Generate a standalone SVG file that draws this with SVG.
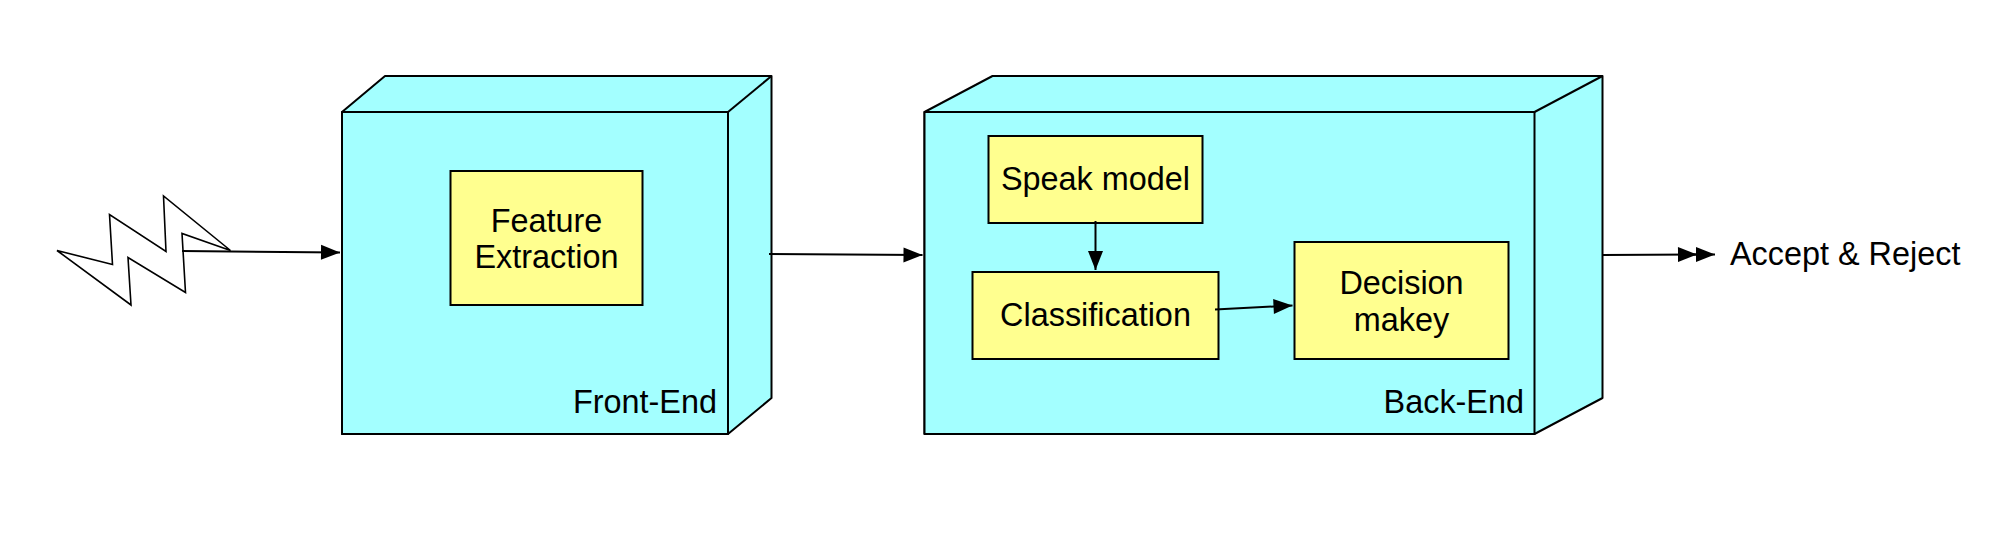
<svg xmlns="http://www.w3.org/2000/svg" width="2004" height="552" viewBox="0 0 2004 552">
<style>
.cube{fill:#a3ffff;stroke:#000;stroke-width:2;stroke-linejoin:round}
.box{fill:#ffff8f;stroke:#000;stroke-width:2}
.bolt{fill:#fff;stroke:#000;stroke-width:1.6;stroke-linejoin:miter}
.link{fill:none;stroke:#000;stroke-width:2}
text{font-family:"Liberation Sans",Arial,Helvetica,sans-serif;font-size:32.4px;fill:#000}
.m{text-anchor:middle}
.e{text-anchor:end}
</style>
<defs>
<marker id="arrow" markerUnits="userSpaceOnUse" markerWidth="20" markerHeight="16" refX="19" refY="7.500" orient="auto" overflow="visible">
<path d="M0 0L19 7.500L0 15Z" fill="#000"/>
</marker>
</defs>
<rect width="2004" height="552" fill="#fff"/>
<g id="front-end">
<path class="cube" d="M342 112L385 76H771.500V398L728 434H342Z"/>
<path class="cube" d="M342 112H728V434H342Z"/>
<path class="cube" style="fill:none" d="M728 112L771.500 76"/>
<text class="e" x="717" y="413">Front-End</text>
</g>
<g id="feature-extraction">
<rect class="box" x="450.500" y="171" width="192" height="134"/>
<text class="m" x="546.500" y="232">Feature</text>
<text class="m" x="546.500" y="268">Extraction</text>
</g>
<g id="back-end">
<path class="cube" d="M924.500 112L992.500 76H1602.500V398L1534.500 434H924.500Z"/>
<path class="cube" d="M924.500 112H1534.500V434H924.500Z"/>
<path class="cube" style="fill:none" d="M1534.500 112L1602.500 76"/>
<text class="e" x="1524" y="413">Back-End</text>
</g>
<g id="speak-model">
<rect class="box" x="988.500" y="136" width="214" height="87"/>
<text class="m" x="1095.500" y="190">Speak model</text>
</g>
<g id="classification">
<rect class="box" x="972.500" y="272" width="246" height="87"/>
<text class="m" x="1095.500" y="326">Classification</text>
</g>
<g id="decision-makey">
<rect class="box" x="1294.500" y="242" width="214" height="117"/>
<text class="m" x="1401.500" y="294">Decision</text>
<text class="m" x="1401.500" y="331">makey</text>
</g>
<g id="signal">
<path class="bolt" d="M57 250.500L112.500 264.500L109.500 214.500L166 251.500L163.500 196L230.500 250.500L182 233.500L185.500 292.500L128 257.500L131 305Z"/>
</g>
<g id="output-label">
<text x="1730" y="265">Accept &amp; Reject</text>
</g>
<g id="connectors">
<path class="link" marker-end="url(#arrow)" d="M182 251L340 252.500"/>
<path class="link" marker-end="url(#arrow)" d="M769 254L922.500 255"/>
<path class="link" marker-end="url(#arrow)" d="M1095.500 221L1095.500 270"/>
<path class="link" marker-end="url(#arrow)" d="M1215 309.500L1292.500 305.500"/>
<path class="link" marker-end="url(#arrow)" d="M1602 255L1697 254.500"/>
<path class="link" marker-end="url(#arrow)" d="M1690 254.500L1715 254.500"/>
</g>
</svg>
